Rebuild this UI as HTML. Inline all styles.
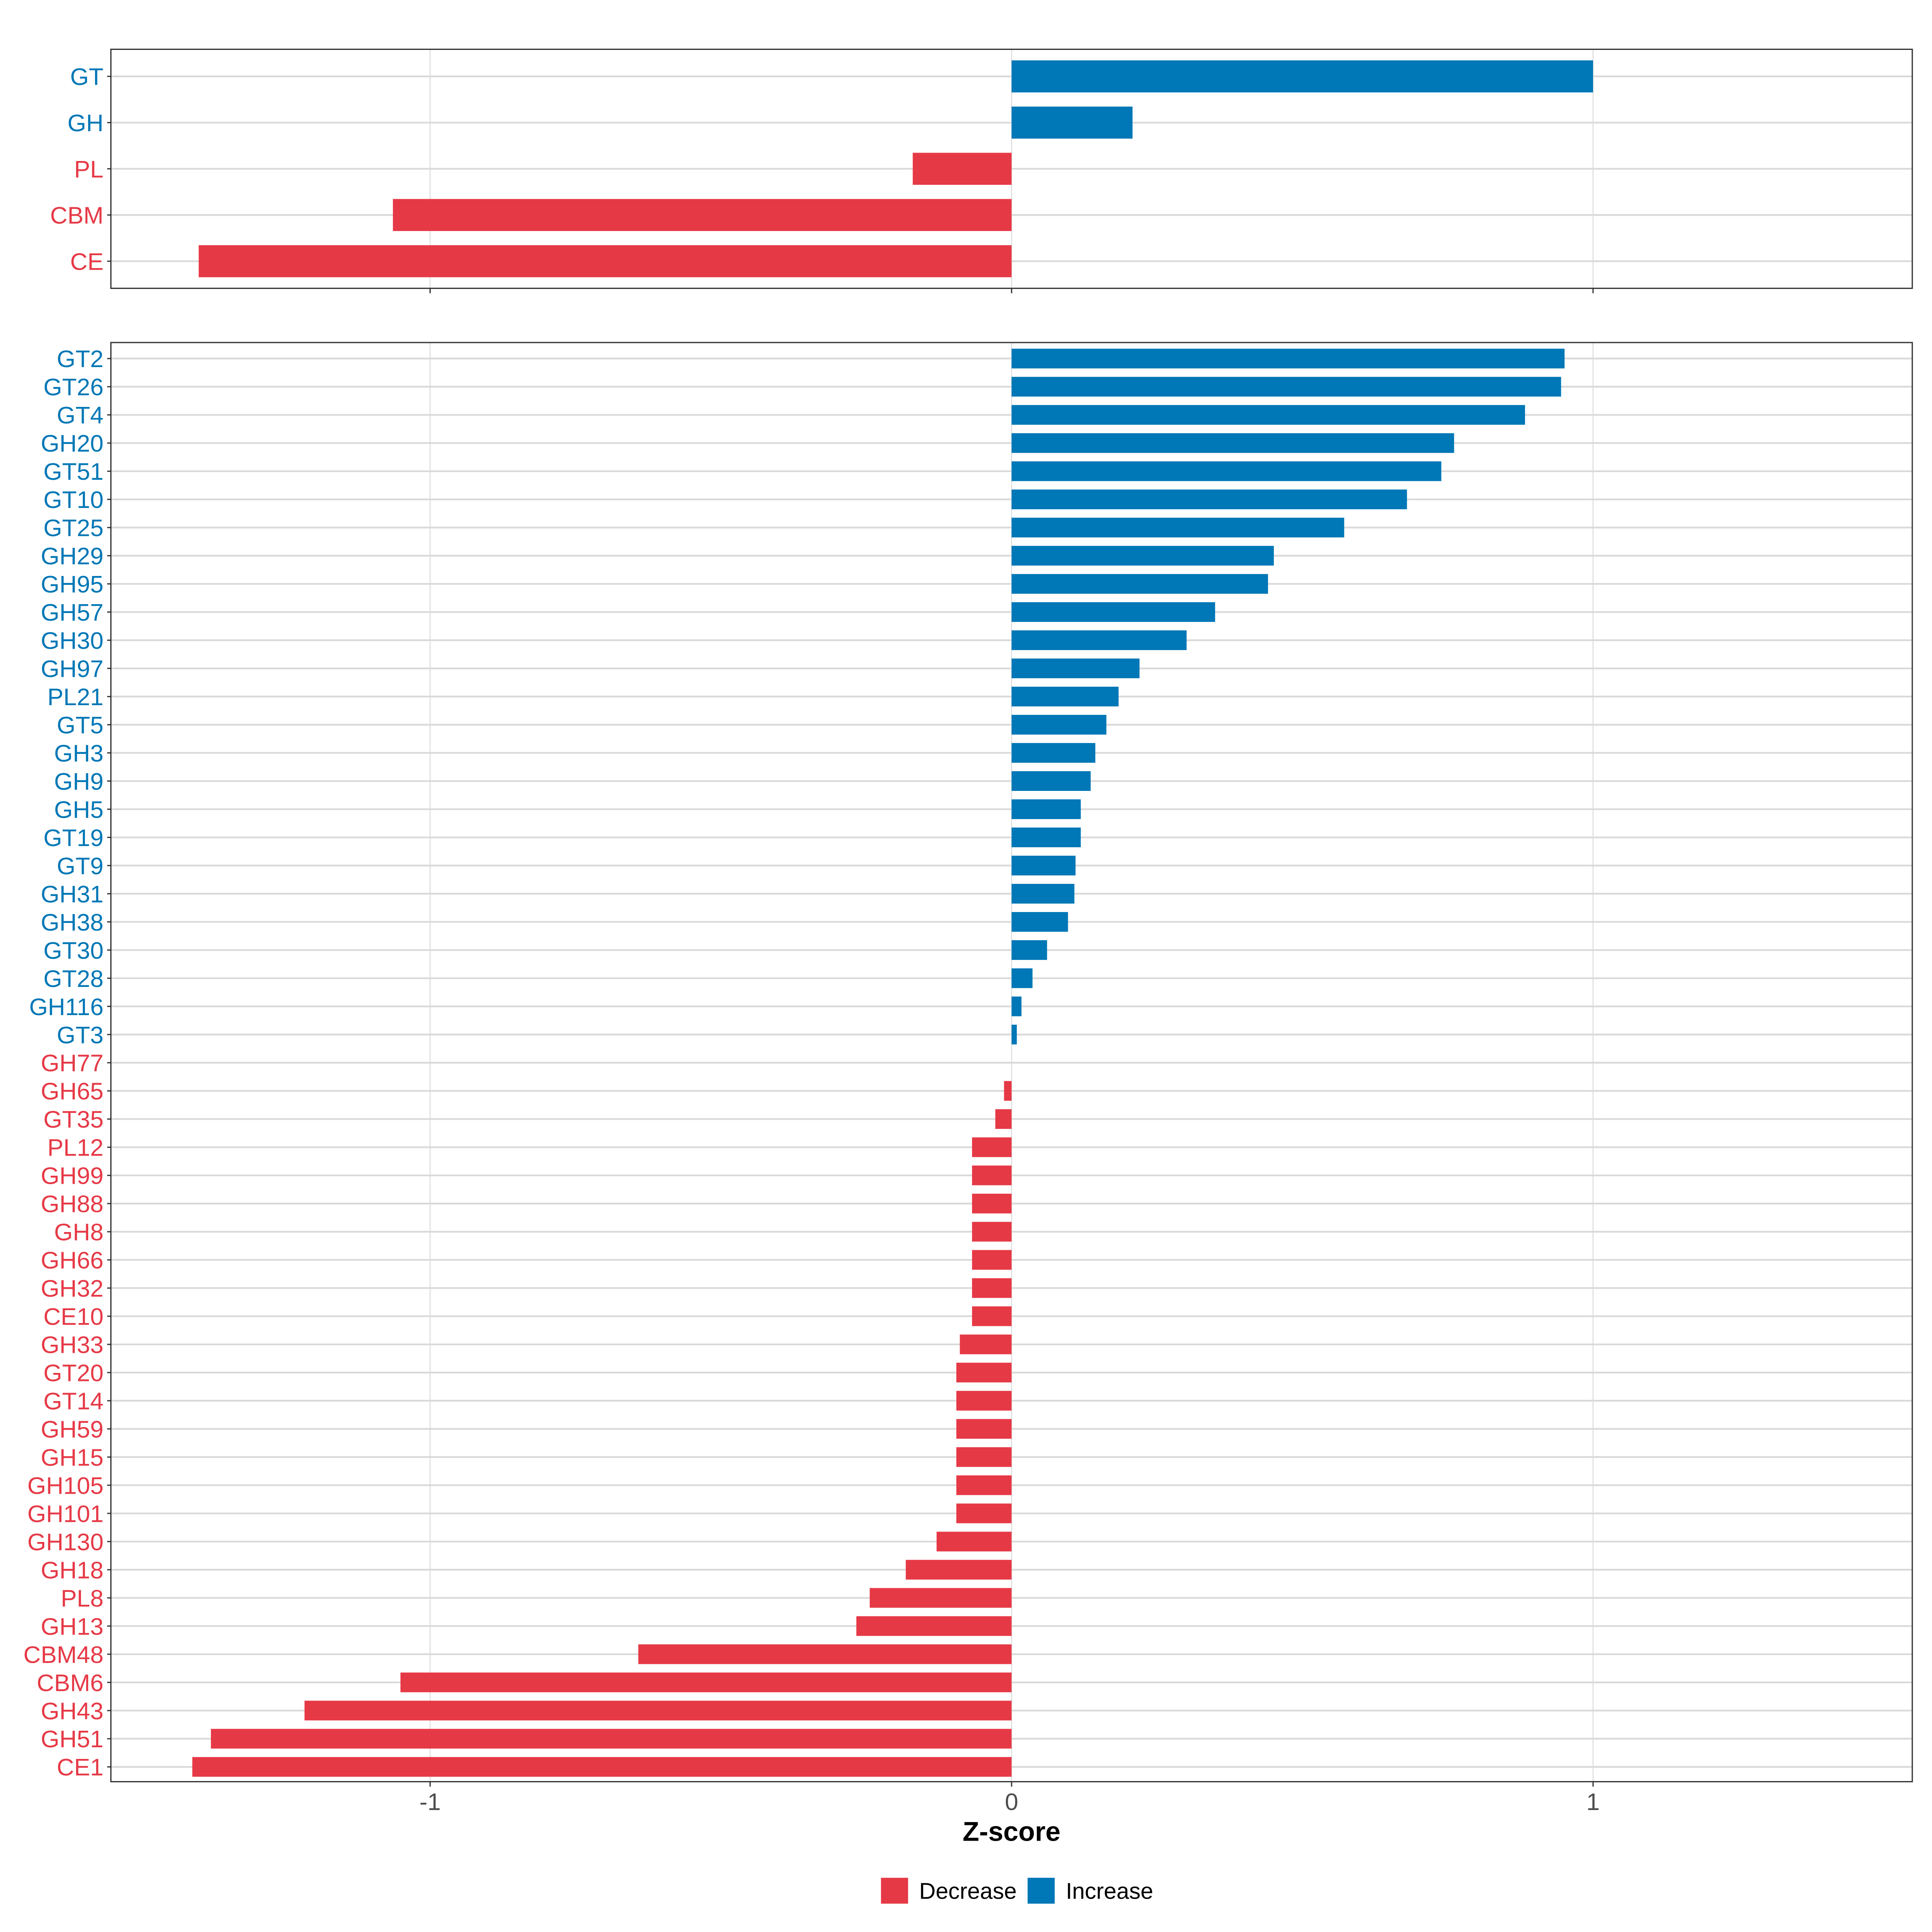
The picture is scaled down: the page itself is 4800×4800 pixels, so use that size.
<!DOCTYPE html>
<html><head><meta charset="utf-8"><style>html,body{margin:0;padding:0;background:#fff}svg{display:block}</style></head>
<body>
<svg id="chart" width="4800" height="4800" viewBox="0 0 1568 1568" xmlns="http://www.w3.org/2000/svg" font-family="Liberation Sans, Arial, sans-serif"></svg>
<script>
const topCats = ["GT","GH","PL","CBM","CE"];
const topVals = [1.0,0.208,-0.17,-1.064,-1.398];
const botCats = ["GT2","GT26","GT4","GH20","GT51","GT10","GT25","GH29","GH95","GH57","GH30","GH97","PL21","GT5","GH3","GH9","GH5","GT19","GT9","GH31","GH38","GT30","GT28","GH116","GT3","GH77","GH65","GT35","PL12","GH99","GH88","GH8","GH66","GH32","CE10","GH33","GT20","GT14","GH59","GH15","GH105","GH101","GH130","GH18","PL8","GH13","CBM48","CBM6","GH43","GH51","CE1"];
const botVals = [0.951,0.945,0.883,0.761,0.739,0.680,0.572,0.451,0.441,0.350,0.301,0.220,0.184,0.163,0.144,0.136,0.119,0.119,0.110,0.108,0.097,0.061,0.036,0.017,0.009,0,-0.013,-0.028,-0.068,-0.068,-0.068,-0.068,-0.068,-0.068,-0.068,-0.089,-0.095,-0.095,-0.095,-0.095,-0.095,-0.095,-0.129,-0.182,-0.244,-0.267,-0.642,-1.051,-1.216,-1.377,-1.409];
const xTicks = [-1,0,1];
const xTickLabels = ["-1","0","1"];

const RED="#E63946", BLUE="#0077B6";
const svg=document.getElementById('chart');
const NS="http://www.w3.org/2000/svg";
function mk(tag,attrs,parent){const e=document.createElementNS(NS,tag);for(const k in attrs)e.setAttribute(k,attrs[k]);(parent||svg).appendChild(e);return e;}
const X0=90,X1=1552,XMIN=-1.549,XMAX=1.549;
function xs(v){return X0+(v-XMIN)/(XMAX-XMIN)*(X1-X0);}

function panel(name,cats,vals,top,bottom,firstY,lastY,barH,showTickLabels){
  const g=mk('g',{});
  
  
  const n=cats.length;
  const ys=i=>n>1?firstY+i*(lastY-firstY)/(n-1):firstY;
  xTicks.forEach(t=>{const l=mk('line',{x1:xs(t),x2:xs(t),y1:top,y2:bottom,stroke:'#dcdcdc','stroke-width':0.8},g);
    });
  cats.forEach((c,i)=>{const l=mk('line',{x1:X0,x2:X1,y1:ys(i),y2:ys(i),stroke:'#d9d9d9','stroke-width':1.4},g);
    });
  cats.forEach((c,i)=>{
    const v=vals[i];const col=v>0?BLUE:RED;
    const xa=xs(Math.min(0,v)),xb=xs(Math.max(0,v));
    const r=mk('rect',{x:xa,y:ys(i)-barH/2,width:Math.max(0,xb-xa),height:barH,fill:col},g);
    
    
    const tk=mk('line',{x1:X0-3,x2:X0,y1:ys(i),y2:ys(i),stroke:'#333','stroke-width':1},g);
    
    const t=mk('text',{x:X0-6,y:ys(i)+7,'text-anchor':'end','font-size':19.5,fill:col},g);
    t.textContent=c;
    
    
  });
  const b=mk('rect',{x:X0,y:top,width:X1-X0,height:bottom-top,fill:'none',stroke:'#333','stroke-width':1},g);
  
  xTicks.forEach((t,i)=>{const l=mk('line',{x1:xs(t),x2:xs(t),y1:bottom,y2:bottom+4,stroke:'#333','stroke-width':1},g);
    
    if(showTickLabels){const tx=mk('text',{x:xs(t),y:bottom+23,'text-anchor':'middle','font-size':19.5,fill:'#4d4d4d'},g);
      tx.textContent=xTickLabels[i];}
  });
}
panel('category-panel',topCats,topVals,40,234,62,212,26,false);
panel('family-panel',botCats,botVals,278,1446,291,1434,16,true);

const xt=mk('text',{x:821,y:1494,'text-anchor':'middle','font-size':22,'font-weight':'bold',fill:'#000'});
xt.textContent='Z-score';



const lg=mk('g',{});


const k1=mk('rect',{x:715,y:1524,width:22,height:21,fill:RED},lg);

const t1=mk('text',{x:746,y:1541,'font-size':18.5,fill:'#000'},lg);t1.textContent='Decrease';

const k2=mk('rect',{x:834,y:1524,width:22,height:21,fill:BLUE},lg);

const t2=mk('text',{x:865,y:1541,'font-size':18.5,fill:'#000'},lg);t2.textContent='Increase';

</script>
</body></html>
